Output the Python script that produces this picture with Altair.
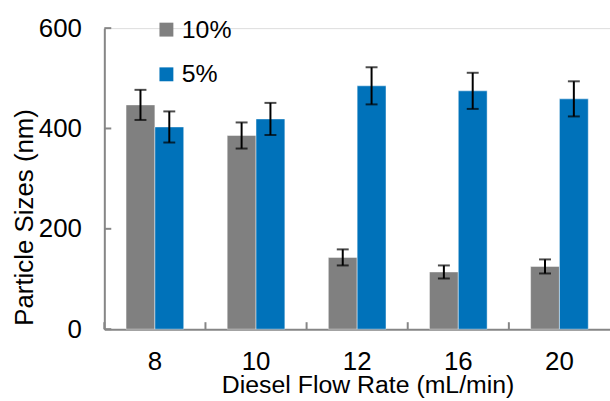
import altair as alt
import pandas as pd

# Particle size vs. diesel flow rate for two concentrations
rates = ["8", "10", "12", "16", "20"]
series = ["10%", "5%"]
size_10 = [447, 386, 143, 114, 125]
err_10 = [30, 26, 16, 13, 14]
size_5 = [403, 419, 485, 475, 459]
err_5 = [31, 32, 37, 36, 35]
y_ticks = [0, 200, 400, 600]
colors = ["#808080", "#0072BA"]

rows = []
for r, v, e in zip(rates, size_10, err_10):
    rows.append({"rate": r, "conc": "10%", "size": v, "lo": v - e, "hi": v + e})
for r, v, e in zip(rates, size_5, err_5):
    rows.append({"rate": r, "conc": "5%", "size": v, "lo": v - e, "hi": v + e})
df = pd.DataFrame(rows)

FONT = "Liberation Sans"
AXIS_GRAY = "#868686"

x_enc = alt.X(
    "rate:N",
    sort=rates,
    scale=alt.Scale(paddingInner=0, paddingOuter=0),
    axis=alt.Axis(
        title="Diesel Flow Rate (mL/min)",
        labelAngle=0,
        labelFontSize=26,
        labelFont=FONT,
        labelColor="black",
        labelBaseline="alphabetic",
        labelPadding=41,
        ticks=False,
        tickSize=0,
        domainColor=AXIS_GRAY,
        domainWidth=2,
        titleFont=FONT,
        titleFontSize=25,
        titleFontWeight="normal",
        titleColor="black",
        titleBaseline="alphabetic",
        titleAlign="center",
        titleX=265,
        titleY=64,
    ),
)
xoff = alt.XOffset(
    "conc:N",
    sort=series,
    scale=alt.Scale(paddingInner=0, paddingOuter=0.754),
)
y_scale = alt.Scale(domain=[0, 600], nice=False)

bars = alt.Chart(df).mark_bar(stroke="white", strokeWidth=1, strokeOpacity=0.45).encode(
    x=x_enc,
    xOffset=xoff,
    y=alt.Y(
        "size:Q",
        scale=y_scale,
        axis=alt.Axis(
            title="Particle Sizes (nm)",
            values=y_ticks,
            grid=False,
            ticks=False,
            tickSize=0,
            labelFontSize=26,
            labelFont=FONT,
            labelColor="black",
            labelPadding=23,
            domainColor=AXIS_GRAY,
            domainWidth=2,
            titleFont=FONT,
            titleFontSize=26,
            titleFontWeight="normal",
            titleColor="black",
            titleAngle=270,
            titleAlign="center",
            titleBaseline="alphabetic",
            titleX=-72,
            titleY=190,
        ),
    ),
    color=alt.Color(
        "conc:N",
        sort=series,
        scale=alt.Scale(domain=series, range=colors),
        legend=alt.Legend(
            title=None,
            orient="none",
            legendX=50,
            legendY=-11,
            symbolType="square",
            symbolSize=196,
            symbolStrokeWidth=0,
            labelFont=FONT,
            labelFontSize=25,
            labelColor="black",
            labelOffset=3,
            rowPadding=19,
            padding=0,
        ),
    ),
)

err_rule = alt.Chart(df).mark_rule(color="black", strokeWidth=2).encode(
    x=alt.X("rate:N", sort=rates),
    xOffset=xoff,
    y=alt.Y("lo:Q", scale=y_scale),
    y2="hi:Q",
)
cap_lo = alt.Chart(df).mark_tick(color="black", thickness=2, size=12).encode(
    x=alt.X("rate:N", sort=rates),
    xOffset=xoff,
    y=alt.Y("lo:Q", scale=y_scale),
)
cap_hi = alt.Chart(df).mark_tick(color="black", thickness=2, size=12).encode(
    x=alt.X("rate:N", sort=rates),
    xOffset=xoff,
    y=alt.Y("hi:Q", scale=y_scale),
)

# inward tick marks on both axes
yt = alt.Chart(pd.DataFrame({"v": y_ticks})).mark_rule(color=AXIS_GRAY, strokeWidth=2).encode(
    y=alt.Y("v:Q", scale=y_scale),
    x=alt.value(0),
    x2=alt.value(7),
)
xt = alt.Chart(pd.DataFrame({"rate": rates})).mark_rule(color=AXIS_GRAY, strokeWidth=2).encode(
    x=alt.X("rate:N", sort=rates, bandPosition=0),
    y=alt.value(303),
    y2=alt.value(296),
)

chart = alt.layer(bars, err_rule, cap_lo, cap_hi, yt, xt).properties(
    width=509,
    height=303,
    autosize=alt.AutoSizeParams(type="none"),
    padding={"left": 105, "top": 27, "right": 0, "bottom": 71},
).configure_view(stroke=None).configure(background="white")

chart.save("out.html", embed_options={"renderer": "svg", "actions": False})
